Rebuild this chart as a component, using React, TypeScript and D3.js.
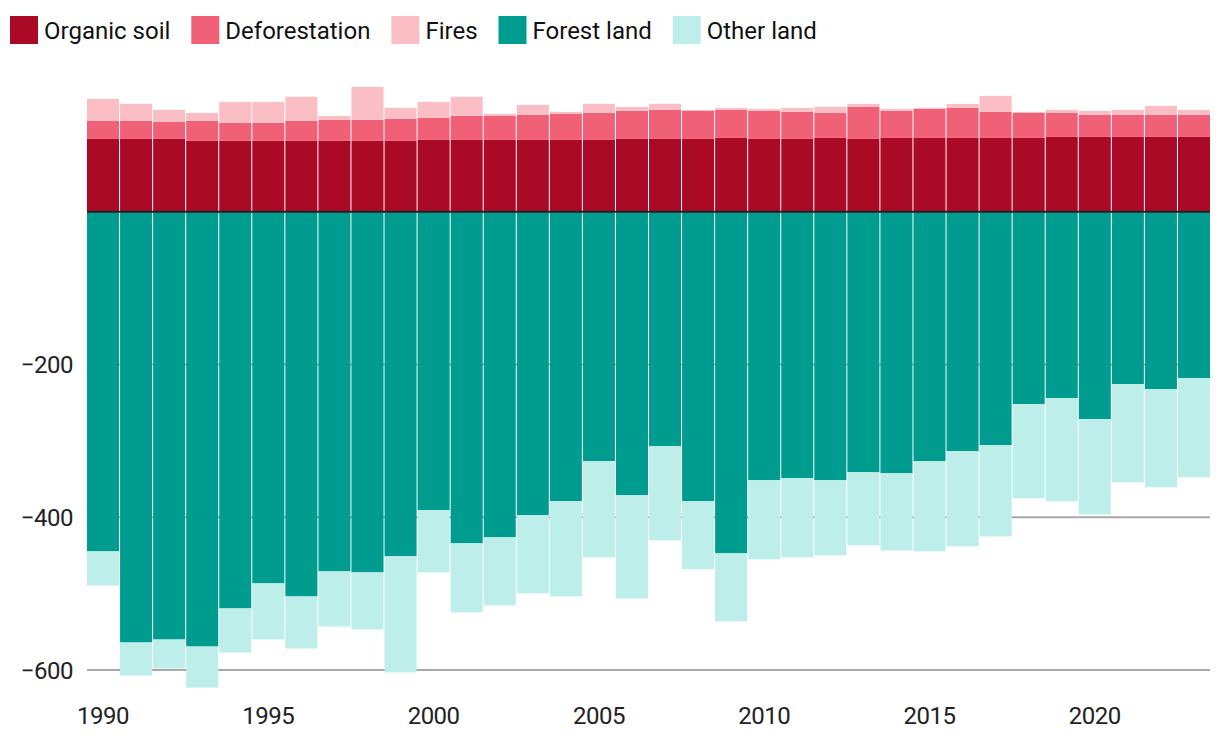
import { useEffect, useRef } from 'react';
import * as d3 from 'd3';

const years = d3.range(1990, 2024);

const organicSoil = [95.3, 95.3, 95.3, 92.7, 92.7, 92.7, 92.7, 92.7, 92.7, 92.7, 94.0, 94.0, 94.0, 94.0, 94.0, 94.0, 95.3, 95.3, 95.3, 96.6, 95.3, 95.3, 96.6, 95.3, 96.6, 96.6, 96.6, 96.6, 96.6, 97.9, 97.9, 97.9, 97.9, 97.9];
const deforestation = [23.6, 23.6, 22.3, 26.2, 23.6, 23.6, 26.2, 27.5, 27.5, 28.8, 28.8, 31.5, 31.5, 32.8, 34.1, 35.4, 36.7, 38.0, 36.7, 36.7, 36.7, 35.4, 32.8, 41.9, 35.4, 38.0, 39.3, 34.1, 32.8, 31.5, 28.8, 28.8, 28.8, 28.8];
const fires = [28.8, 22.3, 15.7, 10.5, 27.5, 27.5, 31.5, 5.2, 43.3, 14.4, 21.0, 24.9, 2.6, 13.1, 2.6, 11.8, 5.2, 7.9, 1.3, 2.6, 2.6, 5.2, 7.9, 3.9, 2.6, 1.3, 5.2, 21.0, 1.3, 3.9, 5.2, 6.6, 11.8, 6.6];
const forestLand = [-444.7, -564.0, -560.1, -569.3, -519.4, -486.6, -503.7, -470.9, -472.2, -451.2, -390.9, -434.2, -426.3, -397.5, -379.1, -326.7, -371.3, -307.1, -379.1, -447.3, -351.6, -349.0, -351.6, -341.2, -342.5, -326.7, -313.6, -305.8, -252.0, -244.2, -271.7, -225.8, -232.4, -218.0];
const otherLand = [-44.6, -43.3, -38.0, -53.7, -57.7, -73.4, -68.2, -72.1, -74.7, -152.0, -81.3, -90.4, -89.1, -102.2, -124.5, -125.8, -135.0, -123.2, -89.1, -89.1, -103.5, -103.5, -98.3, -95.7, -100.9, -118.0, -124.5, -119.3, -123.2, -135.0, -124.5, -128.4, -128.4, -129.7];

const seriesNames = ['Organic soil', 'Deforestation', 'Fires', 'Forest land', 'Other land'];
const seriesColors = ['#ab0a26', '#f06077', '#fbbec5', '#009c8f', '#bdeeea'];
const yTicks = [-200, -400, -600];
const xTickYears = [1990, 1995, 2000, 2005, 2010, 2015, 2020];

const W = 1220;
const H = 750;
const FONT = 'Roboto, "Liberation Sans", sans-serif';

type Row = { year: number; [k: string]: number };

const App = () => {
    const svgRef = useRef<SVGSVGElement | null>(null);

    useEffect(() => {
        if (!svgRef.current) return;
        const svg = d3.select(svgRef.current);
        svg.selectAll('*').remove();

        const allSeries = [organicSoil, deforestation, fires, forestLand, otherLand];
        const rows: Row[] = years.map((year, i) => {
            const r: Row = { year };
            seriesNames.forEach((name, j) => (r[name] = allSeries[j][i]));
            return r;
        });

        const x = d3
            .scaleBand<number>()
            .domain(years)
            .range([87, 1210])
            .paddingInner(0.03)
            .paddingOuter(0);

        const y = d3.scaleLinear().domain([-600, 0]).range([670, 211.7]);

        const stacked = d3
            .stack<Row>()
            .keys(seriesNames)
            .offset(d3.stackOffsetDiverging)(rows);

        // grid lines (behind bars)
        svg
            .append('g')
            .selectAll('line')
            .data(yTicks)
            .join('line')
            .attr('x1', 87)
            .attr('x2', 1210)
            .attr('y1', (d) => y(d))
            .attr('y2', (d) => y(d))
            .attr('stroke', '#a8a8a8')
            .attr('stroke-width', 2);

        // bars
        svg
            .append('g')
            .selectAll('g')
            .data(stacked)
            .join('g')
            .attr('fill', (_, i) => seriesColors[i])
            .selectAll('rect')
            .data((d) => d)
            .join('rect')
            .attr('x', (d) => x(d.data.year) as number)
            .attr('width', x.bandwidth())
            .attr('y', (d) => y(Math.max(d[0], d[1])))
            .attr('height', (d) => Math.abs(y(d[0]) - y(d[1])));

        // zero line
        svg
            .append('line')
            .attr('x1', 87)
            .attr('x2', 1210)
            .attr('y1', y(0))
            .attr('y2', y(0))
            .attr('stroke', '#222')
            .attr('stroke-width', 2);

        // y labels
        svg
            .append('g')
            .selectAll('text')
            .data(yTicks)
            .join('text')
            .attr('x', 73)
            .attr('y', (d) => y(d))
            .attr('dy', '0.36em')
            .attr('text-anchor', 'end')
            .attr('font-family', FONT)
            .attr('font-size', 24)
            .attr('letter-spacing', -0.5)
            .attr('fill', '#222')
            .text((d) => '\u2212' + Math.abs(d));

        // x labels
        svg
            .append('g')
            .selectAll('text')
            .data(xTickYears)
            .join('text')
            .attr('x', (d) => (x(d) as number) + x.bandwidth() / 2)
            .attr('y', 724)
            .attr('text-anchor', 'middle')
            .attr('font-family', FONT)
            .attr('font-size', 24)
            .attr('letter-spacing', -0.5)
            .attr('fill', '#222')
            .text((d) => String(d));

        // legend
        const legend = svg.append('g');
        let cx = 10;
        seriesNames.forEach((name, i) => {
            legend
                .append('rect')
                .attr('x', cx)
                .attr('y', 16)
                .attr('width', 28)
                .attr('height', 28)
                .attr('fill', seriesColors[i]);
            const t = legend
                .append('text')
                .attr('x', cx + 34)
                .attr('y', 39)
                .attr('font-family', FONT)
                .attr('font-size', 24)
                .attr('fill', '#111')
                .text(name);
            const w = (t.node() as SVGTextElement).getComputedTextLength();
            cx += 34 + w + 21;
        });
    }, []);

    return (
        <div style={{ position: 'absolute', left: 0, top: 0 }}>
            <svg ref={svgRef} width={W} height={H} style={{ display: 'block' }} />
        </div>
    );
};

export default App;
